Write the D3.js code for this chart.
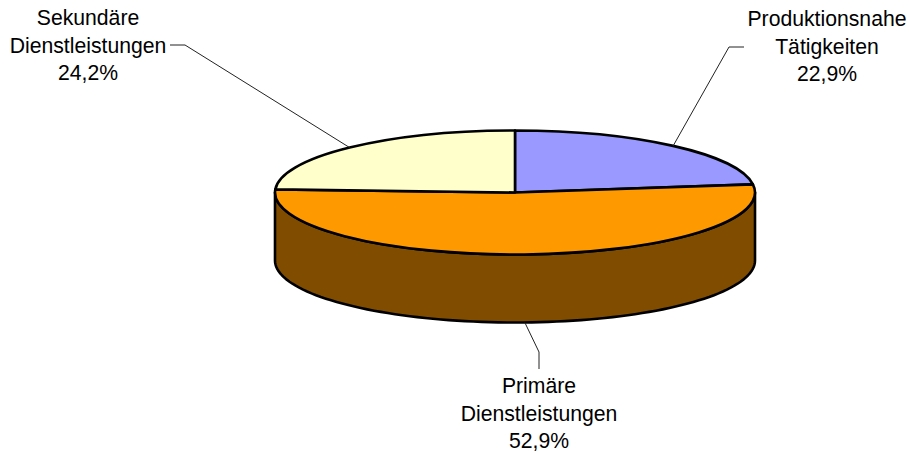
<!DOCTYPE html>
<html><head><meta charset="utf-8">
<script src="https://cdnjs.cloudflare.com/ajax/libs/d3/7.9.0/d3.min.js"></script>
<style>html,body{margin:0;padding:0;background:#fff}svg{display:block}text{font-family:"Liberation Sans",Arial,sans-serif;font-size:21.2px;fill:#000}</style>
</head><body><script>
const categories = ["Produktionsnahe Tätigkeiten", "Primäre Dienstleistungen", "Sekundäre Dienstleistungen"];
const values = [22.9, 52.9, 24.2];
const valueLabels = ["22,9%", "52,9%", "24,2%"];
const topColors = ["#9999ff", "#ff9900", "#ffffcc"];
const sideColor = "#804d00";
const labelLines = [["Produktionsnahe", "Tätigkeiten"], ["Primäre", "Dienstleistungen"], ["Sekundäre", "Dienstleistungen"]];

const W = 909, H = 454, cx = 515, cy = 192.5, rx = 240, ry = 62, depth = 68;
const svg = d3.select("body").append("svg").attr("width", W).attr("height", H);

const slices = d3.pie().sort(null).value(d => d)(values);
const px = d3.scaleLinear().domain([-1, 1]).range([cx - rx, cx + rx]);
const py = d3.scaleLinear().domain([-1, 1]).range([cy - ry, cy + ry]);
const onRim = (a, dz = 0) => [px(Math.sin(a)), py(-Math.cos(a)) + dz];

// side wall (front half of the lower rim)
const frontAngles = d3.range(Math.PI / 2, 3 * Math.PI / 2 + 0.001, Math.PI / 90);
const wall = d3.area().x(a => onRim(a)[0]).y0(a => onRim(a)[1]).y1(a => onRim(a, depth)[1]);
svg.append("path").datum(frontAngles).attr("d", wall)
  .attr("fill", sideColor).attr("stroke", "#000").attr("stroke-width", 2.6).attr("stroke-linejoin", "round");

// top face
const arc = d3.arc().innerRadius(0).outerRadius(rx);
svg.append("g").attr("transform", `translate(${cx},${cy}) scale(1,${ry / rx})`)
  .selectAll("path").data(slices).join("path")
  .attr("d", arc).attr("fill", (d, i) => topColors[i])
  .attr("stroke", "#000").attr("stroke-width", 2.6).attr("stroke-linejoin", "round")
  .attr("vector-effect", "non-scaling-stroke");

// leader lines: rim anchor at each slice's mid-angle, then elbow, then tail
const elbow = [[729, 47, 744, 47], [539, 352, 539, 369], [185, 45, 170, 45]];
const line = d3.line();
slices.forEach((s, i) => {
  const mid = (s.startAngle + s.endAngle) / 2;
  const front = mid > Math.PI / 2 && mid < 3 * Math.PI / 2;
  const a = onRim(mid, front ? depth : 0);
  const e = elbow[i];
  svg.append("path").attr("d", line([a, [e[0], e[1]], [e[2], e[3]]]))
    .attr("fill", "none").attr("stroke", "#222").attr("stroke-width", 1);
});

// labels
const labelX = [827, 539, 88], labelY = [26, 393, 25];
slices.forEach((s, i) => {
  const t = svg.append("text").attr("text-anchor", "middle");
  labelLines[i].concat(valueLabels[i]).forEach((l, j) => {
    t.append("tspan").attr("x", labelX[i]).attr("y", labelY[i] + j * 27.6).text(l);
  });
});
</script></body></html>
